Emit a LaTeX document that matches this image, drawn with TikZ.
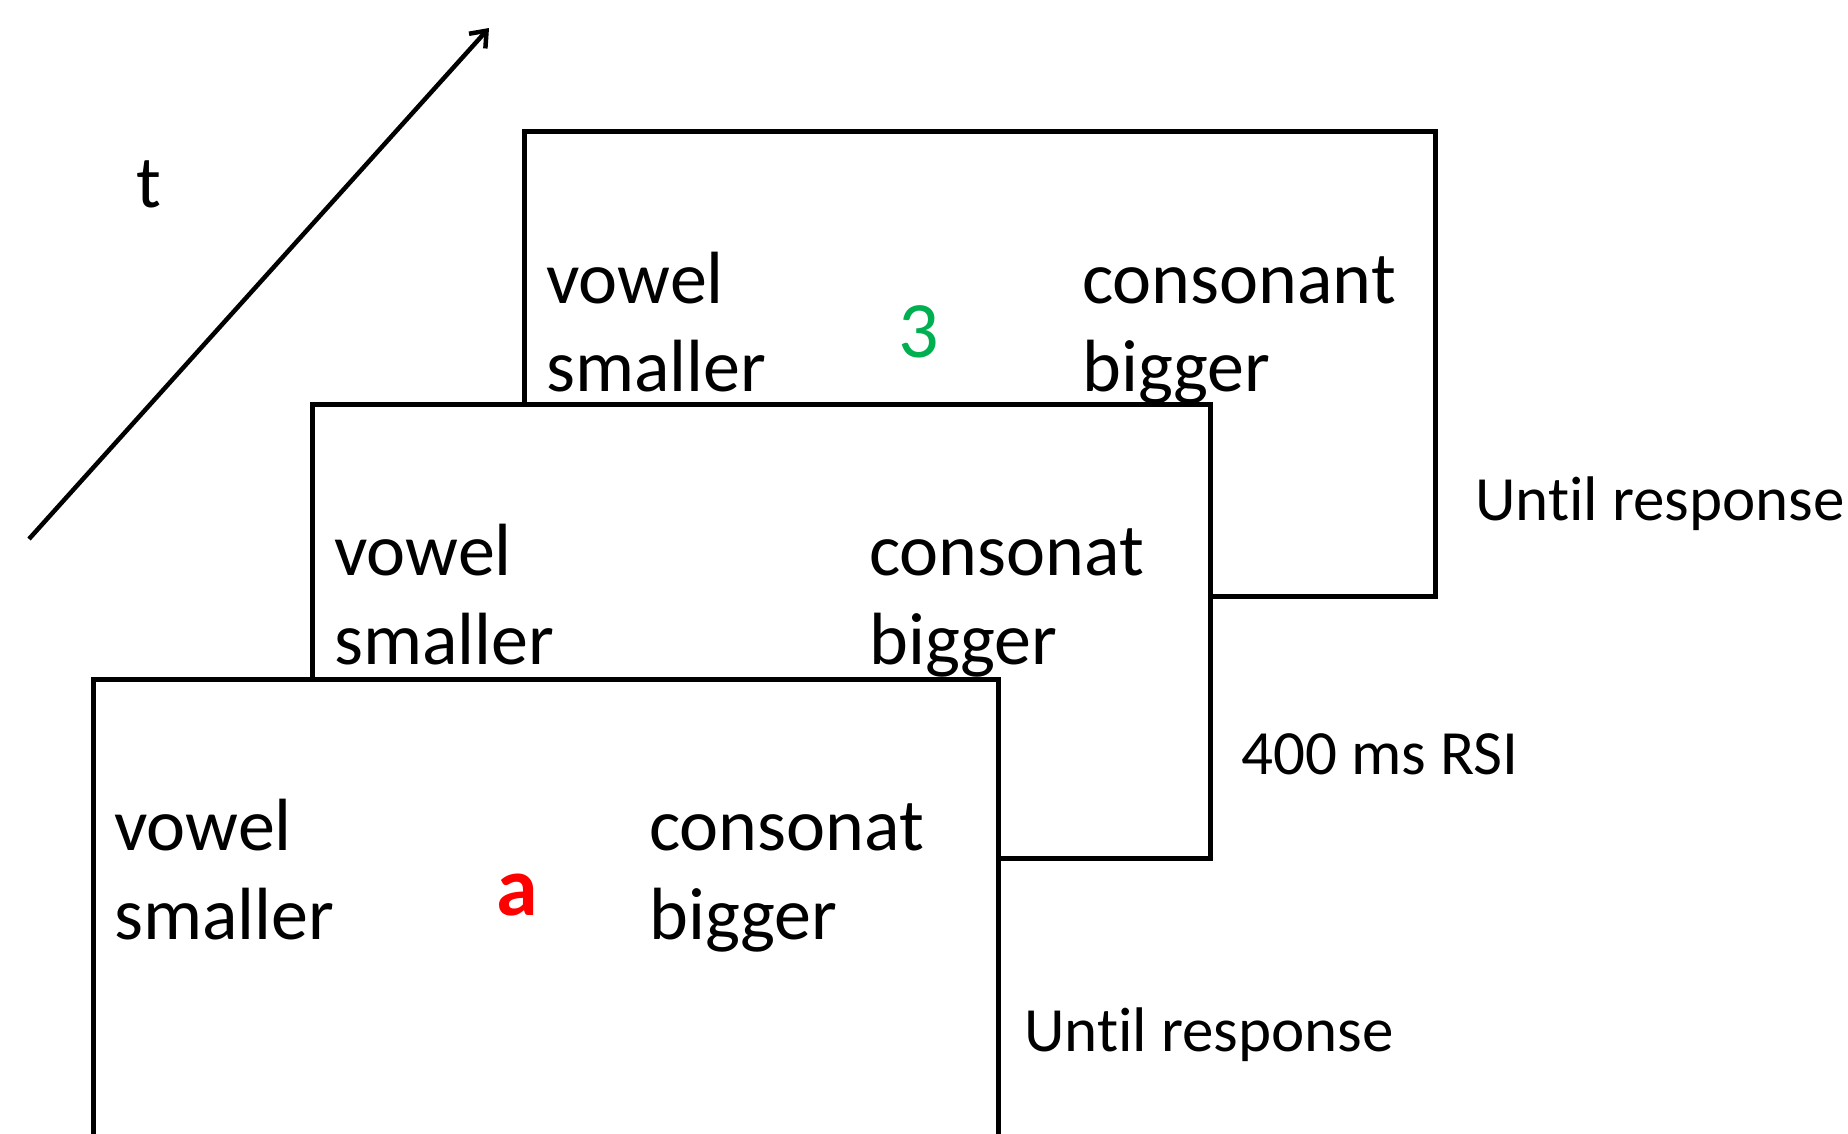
\documentclass[tikz,border=0pt]{standalone}
\usepackage{fontspec}
\setmainfont{Carlito}[Ligatures=NoCommon]
\usetikzlibrary{arrows.meta}
\definecolor{stimgreen}{RGB}{0,176,80}
\definecolor{stimred}{RGB}{255,0,0}
\tikzset{
  screen/.style={draw=black, fill=white, line width=5pt, anchor=north west,
    inner sep=0pt, outer sep=0pt},
  cue/.style={anchor=base west, inner sep=0pt, font=\fontsize{74}{88}\selectfont},
  timing/.style={anchor=base west, inner sep=0pt, font=\fontsize{63}{76}\selectfont},
  timeaxis/.style={line width=4.5pt, -{Straight Barb[length=14pt,width=22pt,line width=4.5pt]}}
}
\begin{document}
\begin{tikzpicture}[x=1pt,y=-1pt]
\useasboundingbox (0,0) rectangle (1848,1133);

% time axis
\coordinate (tstart) at (29,539);
\coordinate (tend) at (489,28);
\draw[timeaxis] (tstart) -- (tend);
\node[anchor=base, inner sep=0pt, font=\fontsize{74}{88}\selectfont] (tlabel) at (149,207) {t};

% third screen (back)
\node[screen, minimum width=911pt, minimum height=465pt] (s3) at (524,131) {};
\node[cue] (s3v) at (546,303) {vowel};
\node[cue] (s3s) at (546,391) {smaller};
\node[cue] (s3c) at (1082,303) {consonant};
\node[cue] (s3b) at (1082,391) {bigger};
\node[anchor=base, inner sep=0pt, text=stimgreen, font=\fontsize{80}{90}\selectfont] (s3stim) at (919,357) {3};
\node[timing] (s3time) at (1475,520) {Until response};

% second screen (blank interval)
\node[screen, minimum width=898pt, minimum height=454pt] (s2) at (312,404) {};
\node[cue] (s2v) at (334,575) {vowel};
\node[cue] (s2s) at (334,664) {smaller};
\node[cue] (s2c) at (869,575) {consonat};
\node[cue] (s2b) at (869,664) {bigger};
\node[timing] (s2time) at (1241,774) {400 ms RSI};

% first screen (front)
\node[screen, minimum width=905pt, minimum height=480pt] (s1) at (93,679) {};
\node[cue] (s1v) at (114,850) {vowel};
\node[cue] (s1s) at (114,939) {smaller};
\node[cue] (s1c) at (649,850) {consonat};
\node[cue] (s1b) at (649,939) {bigger};
\node[anchor=base, inner sep=0pt, text=stimred, font=\fontsize{84}{90}\selectfont\bfseries] (s1stim) at (517,915) {a};
\node[timing] (s1time) at (1024,1051) {Until response};
\end{tikzpicture}
\end{document}
